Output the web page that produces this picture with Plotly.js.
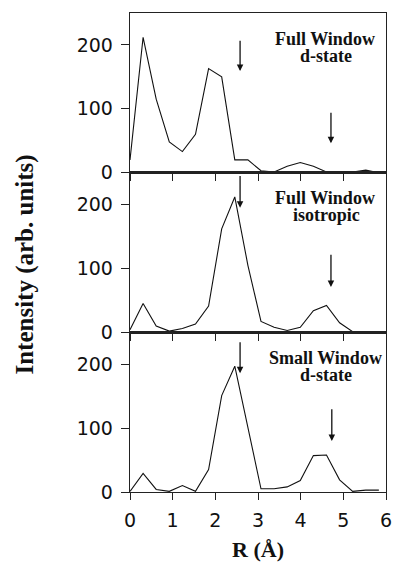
<!DOCTYPE html>
<html>
<head>
<meta charset="utf-8">
<script src="https://cdn.plot.ly/plotly-3.0.1.min.js"></script>
<style>html,body{margin:0;padding:0;background:#fff;}#chart{width:393px;height:562px;}</style>
</head>
<body>
<div id="chart"></div>
<script>
// R values (Å)
const R = [0, 0.307, 0.614, 0.921, 1.228, 1.535, 1.842, 2.149, 2.456, 2.763, 3.07, 3.377, 3.684, 3.991, 4.298, 4.605, 4.912, 5.219, 5.526, 5.833];
// Intensities (arb. units)
const fullD   = [20, 212, 115, 48, 33, 60, 163, 150, 20, 20, 3, 1, 10, 16, 10, 1, 1, 1, 4, 0];
const fullIso = [4, 45, 10, 2, 6, 13, 41, 162, 212, 105, 17, 8, 3, 8, 34, 42, 15, 1, 1, 0];
const smallD  = [1, 29, 4, 1, 10, 1, 35, 151, 197, 100, 5, 5, 8, 18, 57, 58, 19, 1, 3, 3];
// Panel labels
const labelLine1 = ["Full Window", "Full Window", "Small Window"];
const labelLine2 = ["d-state", "isotropic", "d-state"];
// Arrow positions: [x, tailY, headY] per panel (two arrows each)
const arrows = [
  [[2.58, 209, 159], [4.71, 96, 46]],
  [[2.58, 247, 195], [4.71, 124, 71]],
  [[2.58, 237, 186], [4.73, 132, 80]]
];
const xTicks = [0, 1, 2, 3, 4, 5, 6];
const yTicks = [0, 100, 200];

const series = [fullD, fullIso, smallD];
const axSuffix = ['', '2', '3'];
const domains = [[2/3, 1], [1/3, 2/3], [0, 1/3]];

const traces = series.map((s, i) => ({
  x: R, y: s, type: 'scatter', mode: 'lines',
  xaxis: 'x' + axSuffix[i], yaxis: 'y' + axSuffix[i],
  line: {color: '#111', width: 1.1}, hoverinfo: 'skip', showlegend: false
}));

const layout = {
  width: 393, height: 562,
  margin: {l: 130, r: 7, t: 13, b: 70},
  paper_bgcolor: '#fff', plot_bgcolor: '#fff',
  showlegend: false,
  annotations: []
};

const tickFont = {family: 'DejaVu Sans, sans-serif', size: 19, color: '#111'};
const serif = 'Liberation Serif, Times New Roman, serif';

for (let i = 0; i < 3; i++) {
  const sx = axSuffix[i];
  layout['xaxis' + sx] = {
    range: [0, 6], anchor: 'y' + sx,
    tickvals: xTicks, showticklabels: i === 2,
    ticks: 'outside', ticklen: 7, tickwidth: 1, tickcolor: '#222',
    ticklabelstandoff: 4,
    showline: true, linecolor: '#222', linewidth: 1.3, mirror: true,
    showgrid: false, zeroline: false,
    tickfont: tickFont
  };
  if (i === 2) {
    layout['xaxis' + sx].title = {text: '<b>R (Å)</b>', standoff: 11,
      font: {family: serif, size: 22, color: '#111'}};
  } else {
    layout['xaxis' + sx].matches = 'x3';
  }
  layout['yaxis' + sx] = {
    range: [0, 250], domain: domains[i], anchor: 'x' + sx,
    tickvals: yTicks,
    ticks: 'outside', ticklen: 8, tickwidth: 1, tickcolor: '#222',
    ticklabelstandoff: 4,
    showline: true, linecolor: '#222', linewidth: 1.3, mirror: true,
    showgrid: false, zeroline: false,
    tickfont: tickFont
  };
  const tf = {family: serif, size: 18, color: '#111'};
  layout.annotations.push({xref: 'x' + sx, yref: 'y' + sx, x: 4.58, y: 210,
    text: '<b>' + labelLine1[i] + '</b>', showarrow: false, font: tf});
  layout.annotations.push({xref: 'x' + sx, yref: 'y' + sx, x: 4.6, y: 183,
    text: '<b>' + labelLine2[i] + '</b>', showarrow: false, font: tf});
  arrows[i].forEach(a => {
    layout.annotations.push({xref: 'x' + sx, yref: 'y' + sx, axref: 'x' + sx, ayref: 'y' + sx,
      x: a[0], y: a[2], ax: a[0], ay: a[1], text: '', showarrow: true,
      arrowhead: 2, arrowsize: 1, arrowwidth: 1.3, arrowcolor: '#111', standoff: 0});
  });
}

layout.annotations.push({xref: 'paper', yref: 'paper', x: -0.41, y: 0.475,
  xanchor: 'center', yanchor: 'middle', textangle: -90, showarrow: false,
  text: '<b>Intensity (arb. units)</b>',
  font: {family: serif, size: 25, color: '#111'}});

Plotly.newPlot('chart', traces, layout, {staticPlot: true, displayModeBar: false});
</script>
</body>
</html>
